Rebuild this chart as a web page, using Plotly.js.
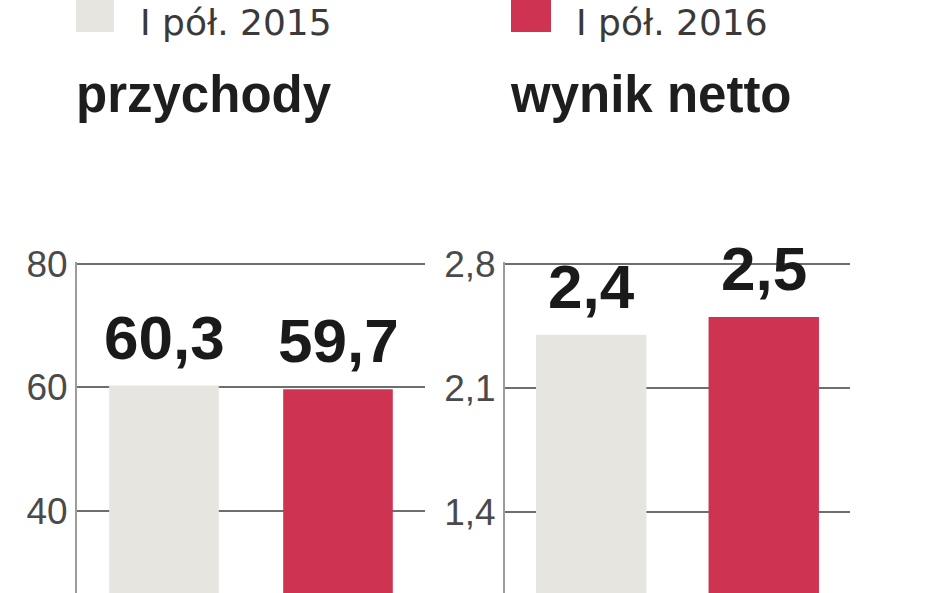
<!DOCTYPE html>
<html>
<head>
<meta charset="utf-8">
<script src="https://cdn.plot.ly/plotly-3.0.1.min.js"></script>
<style>html,body{margin:0;padding:0;background:#fff}#chart{width:948px;height:593px}</style>
</head>
<body>
<div id="chart"></div>
<script>
// ---- data ----
const periods = ["I pół. 2015", "I pół. 2016"];
const panelTitles = ["przychody", "wynik netto"];
const revenue = [60.3, 59.7];
const netProfit = [2.4, 2.5];
const revenueTickVals = [40, 60, 80];
const revenueTickText = ["40", "60", "80"];
const profitTickVals = [1.4, 2.1, 2.8];
const profitTickText = ["1,4", "2,1", "2,8"];
const revenueLabels = ["60,3", "59,7"];
const profitLabels = ["2,4", "2,5"];

// ---- style ----
const barColors = ["#e7e5e0", "#cf3352"];
const W = 948, H = 593;
const REG = "Liberation Sans, Arial, sans-serif";
const LEG = "DejaVu Sans, Liberation Sans, sans-serif";
const px = (p) => p / W;
const py = (p) => (H - p) / H;

const traces = [
  {type: "bar", x: periods, y: revenue, xaxis: "x", yaxis: "y",
   marker: {color: barColors}, width: 0.63, hoverinfo: "skip", showlegend: false},
  {type: "bar", x: periods, y: netProfit, xaxis: "x2", yaxis: "y2",
   marker: {color: barColors}, width: 0.64, hoverinfo: "skip", showlegend: false}
];

const valueFont = {family: REG, size: 62, color: "#1a1a1a", weight: "bold"};
const annotations = [];
revenue.forEach((v, i) => annotations.push({
  x: periods[i], y: v, xref: "x", yref: "y", text: revenueLabels[i], showarrow: false,
  yanchor: "bottom", yshift: 12, font: valueFont
}));
netProfit.forEach((v, i) => annotations.push({
  x: periods[i], y: v, xref: "x2", yref: "y2", text: profitLabels[i], showarrow: false,
  yanchor: "bottom", yshift: 12, font: valueFont
}));
// panel titles
const titleFont = {family: REG, size: 51, color: "#1e1e1e", weight: "bold"};
annotations.push({x: px(74), y: py(125), xref: "paper", yref: "paper", xanchor: "left", yanchor: "bottom",
  text: panelTitles[0], showarrow: false, font: titleFont});
annotations.push({x: px(508), y: py(125), xref: "paper", yref: "paper", xanchor: "left", yanchor: "bottom",
  text: panelTitles[1], showarrow: false, font: titleFont});
// legend labels
const legFont = {family: LEG, size: 36, color: "#3a3a3a"};
annotations.push({x: px(138), y: 1, xref: "paper", yref: "paper", xanchor: "left", yanchor: "top",
  text: periods[0], showarrow: false, font: legFont});
annotations.push({x: px(574), y: 1, xref: "paper", yref: "paper", xanchor: "left", yanchor: "top",
  text: periods[1], showarrow: false, font: legFont});

const shapes = [
  {type: "rect", xref: "paper", yref: "paper", x0: px(76), x1: px(114), y0: py(32), y1: py(-5),
   fillcolor: barColors[0], line: {width: 0}},
  {type: "rect", xref: "paper", yref: "paper", x0: px(511), x1: px(551), y0: py(32), y1: py(-5),
   fillcolor: barColors[1], line: {width: 0}}
];

const tickFont = {family: REG, size: 37, color: "#4a4a4a"};
const yTop = 262;
const layout = {
  width: W, height: H,
  margin: {l: 0, r: 0, t: 0, b: 0},
  paper_bgcolor: "#ffffff", plot_bgcolor: "rgba(0,0,0,0)",
  showlegend: false,
  xaxis: {domain: [px(77), px(425)], type: "category", range: [-0.5, 1.5],
    showticklabels: false, showgrid: false, zeroline: false, showline: false, fixedrange: true},
  xaxis2: {domain: [px(505), px(850)], type: "category", range: [-0.5, 1.5],
    showticklabels: false, showgrid: false, zeroline: false, showline: false, fixedrange: true},
  yaxis: {domain: [0, py(yTop)], range: [26.7, 80.32], tickvals: revenueTickVals, ticktext: revenueTickText,
    showgrid: true, gridcolor: "#6e6e6e", gridwidth: 2, zeroline: false,
    showline: true, linecolor: "#9c9c9c", linewidth: 2, ticks: "", ticklabelstandoff: 0,
    tickfont: tickFont, anchor: "x", fixedrange: true},
  yaxis2: {domain: [0, py(yTop)], range: [0.94, 2.811], tickvals: profitTickVals, ticktext: profitTickText,
    showgrid: true, gridcolor: "#6e6e6e", gridwidth: 2, zeroline: false,
    showline: true, linecolor: "#9c9c9c", linewidth: 2, ticks: "", ticklabelstandoff: 0,
    tickfont: tickFont, anchor: "x2", fixedrange: true},
  annotations: annotations,
  shapes: shapes
};

Plotly.newPlot("chart", traces, layout, {displayModeBar: false, staticPlot: true});
</script>
</body>
</html>
